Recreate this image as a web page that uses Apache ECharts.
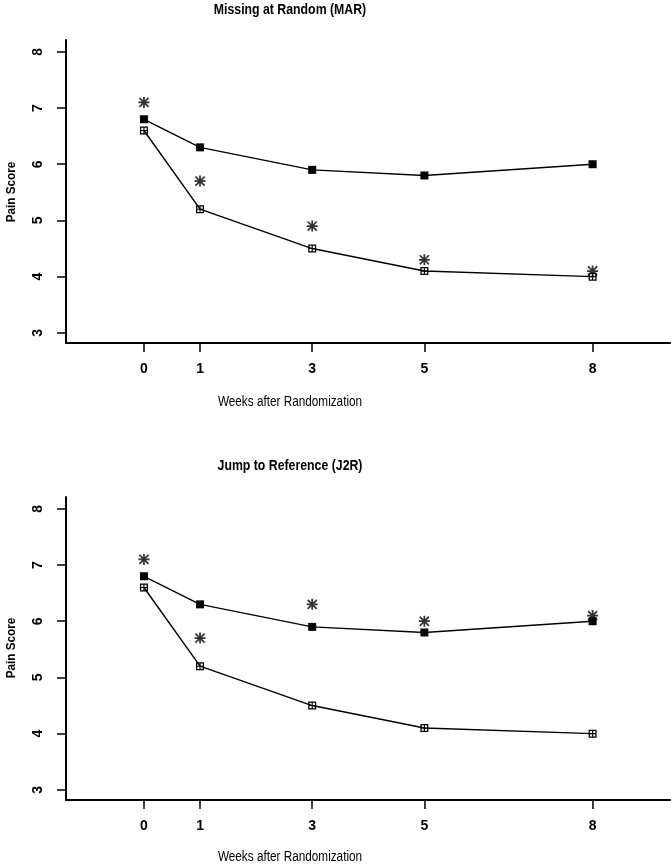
<!DOCTYPE html>
<html>
<head>
<meta charset="utf-8">
<script src="https://cdn.jsdelivr.net/npm/echarts@6/dist/echarts.min.js"></script>
<style>
html,body{margin:0;padding:0;background:#fff;}
#chart{width:671px;height:865px;}
</style>
</head>
<body>
<div id="chart"></div>
<script>
// Data
var weeks = [0, 1, 3, 5, 8];
var yTicks = [3, 4, 5, 6, 7, 8];
var titles = ['Missing at Random (MAR)', 'Jump to Reference (J2R)'];
var xTitle = 'Weeks after Randomization';
var yTitle = 'Pain Score';

// MAR panel
var marFilled = [6.8, 6.3, 5.9, 5.8, 6.0];
var marOpen = [6.6, 5.2, 4.5, 4.1, 4.0];
var marStar = [7.1, 5.7, 4.9, 4.3, 4.1];

// J2R panel
var j2rFilled = [6.8, 6.3, 5.9, 5.8, 6.0];
var j2rOpen = [6.6, 5.2, 4.5, 4.1, 4.0];
var j2rStar = [7.1, 5.7, 6.3, 6.0, 6.1];

function pairs(xs, ys) { return xs.map(function (x, i) { return [x, ys[i]]; }); }

var FONT = '"Liberation Sans", Arial, sans-serif';

var starPath = 'path://M4.2,0 L5.8,0 L5.8,10 L4.2,10 Z M0,4.2 L10,4.2 L10,5.8 L0,5.8 Z ' +
  'M1.4,0.3 L9.7,8.6 L8.6,9.7 L0.3,1.4 Z M8.6,0.3 L9.7,1.4 L1.4,9.7 L0.3,8.6 Z';
var openSqPath = 'path://M0,0 L10,0 L10,10 L0,10 Z M1.6,1.6 L1.6,8.4 L8.4,8.4 L8.4,1.6 Z ' +
  'M4.3,1 L5.7,1 L5.7,9 L4.3,9 Z M1,4.3 L9,4.3 L9,5.7 L1,5.7 Z';

var grids = [
  { left: 66, right: 1, top: 40, height: 303 },
  { left: 66, right: 1, top: 497, height: 303 }
];

function xAxisFor(i) {
  return {
    gridIndex: i, type: 'value', min: -1.39, max: 9.38,
    axisLine: { show: true, onZero: false, lineStyle: { color: '#000', width: 2 } },
    axisTick: { show: true, length: 9, customValues: weeks, lineStyle: { color: '#000', width: 1.5 } },
    axisLabel: { customValues: weeks, margin: 19, color: '#000', fontWeight: 'bold', fontSize: 14, fontFamily: FONT },
    splitLine: { show: false }
  };
}
function yAxisFor(i) {
  return {
    gridIndex: i, type: 'value', min: 2.82, max: 8.21,
    axisLine: { show: true, onZero: false, lineStyle: { color: '#000', width: 2 } },
    axisTick: { show: true, length: 9, customValues: yTicks, lineStyle: { color: '#000', width: 1.5 } },
    axisLabel: { customValues: yTicks, rotate: 90, margin: 21, color: '#000', fontWeight: 'bold', fontSize: 14, fontFamily: FONT },
    splitLine: { show: false }
  };
}

function panelSeries(i, filled, open, star) {
  return [
    {
      type: 'line', xAxisIndex: i, yAxisIndex: i, data: pairs(weeks, filled),
      symbol: 'rect', symbolSize: 8, showSymbol: true,
      lineStyle: { color: '#000', width: 1.4 }, itemStyle: { color: '#000' }, z: 3, animation: false
    },
    {
      type: 'line', xAxisIndex: i, yAxisIndex: i, data: pairs(weeks, open),
      symbol: openSqPath, symbolSize: 8, showSymbol: true,
      lineStyle: { color: '#000', width: 1.4 }, itemStyle: { color: '#000' }, z: 3, animation: false
    },
    {
      type: 'scatter', xAxisIndex: i, yAxisIndex: i, data: pairs(weeks, star),
      symbol: starPath, symbolSize: 11, itemStyle: { color: '#000' }, z: 4, animation: false
    }
  ];
}

function label(text, x, y, font, sx, rot) {
  return {
    type: 'text', x: x, y: y, rotation: rot || 0, scaleX: sx, scaleY: 1,
    style: { text: text, fill: '#000', font: font, textAlign: 'center', textVerticalAlign: 'middle' }
  };
}

var chart = echarts.init(document.getElementById('chart'), null, { renderer: 'canvas' });
chart.setOption({
  backgroundColor: '#fff',
  animation: false,
  grid: grids,
  xAxis: [xAxisFor(0), xAxisFor(1)],
  yAxis: [yAxisFor(0), yAxisFor(1)],
  series: panelSeries(0, marFilled, marOpen, marStar).concat(panelSeries(1, j2rFilled, j2rOpen, j2rStar)),
  graphic: [
    label(titles[0], 290, 10, 'bold 15px ' + FONT, 0.82),
    label(xTitle, 290, 402, '14px ' + FONT, 0.84),
    label(titles[1], 290, 466, 'bold 15px ' + FONT, 0.82),
    label(xTitle, 290, 857, '14px ' + FONT, 0.84),
    { type: 'text', x: 11, y: 192, rotation: Math.PI / 2, scaleX: 0.9,
      style: { text: yTitle, fill: '#000', font: 'bold 13px ' + FONT, textAlign: 'center', textVerticalAlign: 'middle' } },
    { type: 'text', x: 11, y: 648, rotation: Math.PI / 2, scaleX: 0.9,
      style: { text: yTitle, fill: '#000', font: 'bold 13px ' + FONT, textAlign: 'center', textVerticalAlign: 'middle' } }
  ]
});
</script>
</body>
</html>
